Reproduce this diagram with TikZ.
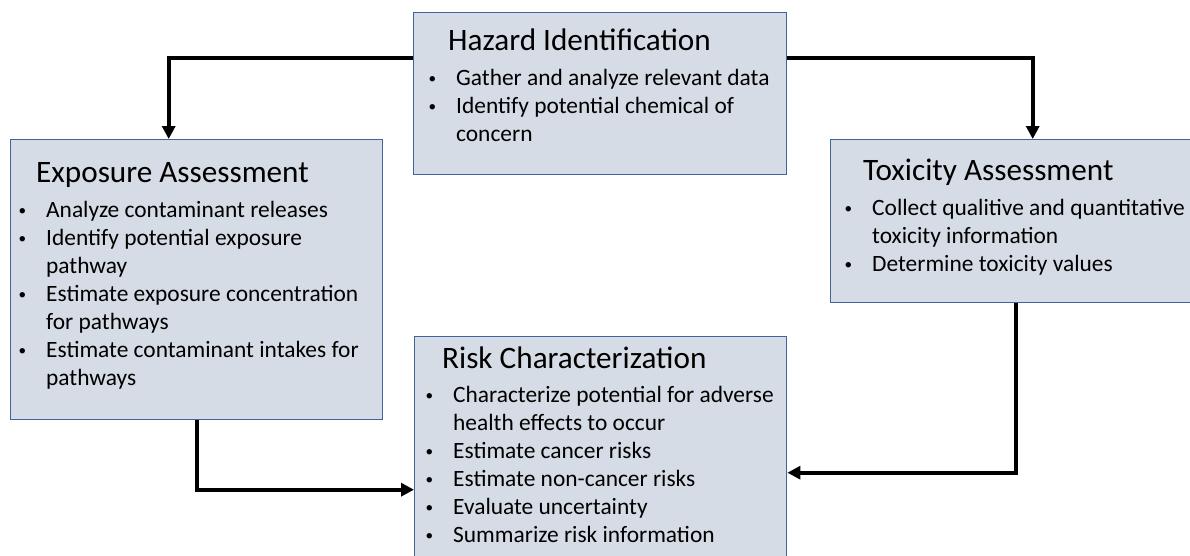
\documentclass[tikz,border=0pt]{standalone}
\usepackage{fontspec}
\setmainfont{Carlito}
\usetikzlibrary{positioning, arrows.meta}
\definecolor{boxfill}{HTML}{D6DCE5}
\definecolor{boxline}{HTML}{41649F}
% bullet and continuation indent for the lists
\newcommand{\bl}{\makebox[29pt][l]{\hspace{1.5pt}\raisebox{2pt}{\scalebox{0.65}{\textbullet}}}}
\newcommand{\nb}{\hspace*{29pt}}
\tikzset{
    x=1pt, y=1pt,
    stage/.style={draw=boxline, fill=boxfill, line width=1.4pt, inner sep=0pt, anchor=north west}, % the four boxes
    heading/.style={anchor=base west, inner sep=0pt, font=\fontsize{31.2}{37}\selectfont},
    points/.style={anchor=base west, inner sep=0pt, font=\fontsize{23.4}{28}\selectfont},
    flow/.style={line width=4pt, -{Triangle[length=13pt,width=13pt]}}, % connectors
}
\begin{document}
\begin{tikzpicture}
    \useasboundingbox (0,0) rectangle (1190,-555);
    \clip (0,0) rectangle (1190,-555);

    % boxes
    \node[stage, minimum width=373pt, minimum height=162pt] (haz) at (413,-12) {};
    \node[stage, minimum width=372pt, minimum height=280pt] (exp) at (10,-139) {};
    \node[stage, minimum width=370pt, minimum height=163pt] (tox) at (830,-139) {};
    \node[stage, minimum width=372pt, minimum height=306pt] (risk) at (414,-336) {};

    % headings
    \node[heading] (hazT) at ([xshift=35pt,yshift=-38pt]haz.north west) {Hazard Identification};
    \node[heading] (expT) at ([xshift=26pt,yshift=-43pt]exp.north west) {Exposure Assessment};
    \node[heading] (toxT) at ([xshift=33pt,yshift=-41pt]tox.north west) {Toxicity Assessment};
    \node[heading] (riskT) at ([xshift=28pt,yshift=-32pt]risk.north west) {Risk Characterization};

    % bullet lists
    \node[points] (hazL) at ([xshift=14pt,yshift=-73pt]haz.north west) {%
        \begin{tabular}[t]{@{}l@{}}
        \bl Gather and analyze relevant data\\
        \bl Identify potential chemical of\\
        \nb concern
        \end{tabular}};
    \node[points] (expL) at ([xshift=7pt,yshift=-78pt]exp.north west) {%
        \begin{tabular}[t]{@{}l@{}}
        \bl Analyze contaminant releases\\
        \bl Identify potential exposure\\
        \nb pathway\\
        \bl Estimate exposure concentration\\
        \nb for pathways\\
        \bl Estimate contaminant intakes for\\
        \nb pathways
        \end{tabular}};
    \node[points] (toxL) at ([xshift=13pt,yshift=-76pt]tox.north west) {%
        \begin{tabular}[t]{@{}l@{}}
        \bl Collect qualitive and quantitative\\
        \nb toxicity information\\
        \bl Determine toxicity values
        \end{tabular}};
    \node[points] (riskL) at ([xshift=10pt,yshift=-66pt]risk.north west) {%
        \begin{tabular}[t]{@{}l@{}}
        \bl Characterize potential for adverse\\
        \nb health effects to occur\\
        \bl Estimate cancer risks\\
        \bl Estimate non-cancer risks\\
        \bl Evaluate uncertainty\\
        \bl Summarize risk information
        \end{tabular}};

    % connectors
    \draw[flow] ([yshift=36pt]haz.west) -| ([xshift=-28pt]exp.north);
    \draw[flow] ([yshift=36pt]haz.east) -| ([xshift=17pt]tox.north);
    \draw[flow] (exp.south) |- (risk.west);
    \draw[flow] (tox.south) |- ([yshift=17pt]risk.east);
\end{tikzpicture}
\end{document}
